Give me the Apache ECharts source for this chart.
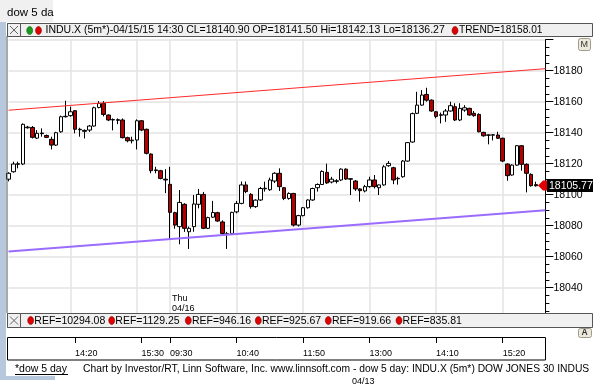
<!DOCTYPE html>
<html><head><meta charset="utf-8">
<script src="https://cdn.jsdelivr.net/npm/echarts@6/dist/echarts.min.js"></script>
<style>html,body{margin:0;padding:0;background:#fff;overflow:hidden}#c{width:600px;height:384px}</style>
</head><body><div id="c"></div>
<script>
// ---- data ----
const sessions = [['04/15','13:10','15:55'],['04/16','09:30','16:05']];
const openVals = [18110.0,18114.8,18119.6,18119.8,18143.2,18143.4,18136.5,18139.8,18138.2,18135.7,
18132.0,18140.6,18150.3,18151.0,18154.2,18142.2,18141.50,18141.7,18144.3,18156.3,
18158.9,18151.4,18148.2,18148.4,18148.2,18136.8,18134.8,18135.3,18147.7,18142.2,
18126.2,18116.0,18115.5,18110.0,18106.7,18088.4,18079.4,18093.8,18076.1,18079.4,
18093.8,18100.2,18078.3,18085.5,18088.4,18082.4,18074.5,18075.0,18088.9,18094.4,
18106.3,18100.2,18092.3,18096.6,18103.8,18103.2,18108.8,18113.8,18104.5,18097.6,
18100.8,18080.4,18086.5,18091.6,18096.6,18104.5,18106.6,18114.4,18108.2,18108.6,
18109.5,18116.5,18110.3,18108.8,18103.7,18102.4,18105.2,18109.5,18104.5,18106.3,
18118.7,18117.4,18110.3,18111.6,18121.7,18134.0,18152.5,18157.8,18164.7,18161.0,
18153.5,18151.2,18151.4,18154.0,18156.8,18148.2,18154.6,18155.7,18152.5,18151.8,
18140.2,18138.3,18138.4,18138.5,18136.4,18119.8,18112.7,18119.1,18131.6,18119.6,
18113.1,18106.5];
const closeVals = [18113.8,18119.8,18120.0,18145.4,18143.6,18137.0,18139.6,18139.4,18137.0,18132.0,
18140.0,18150.3,18150.6,18153.5,18142.2,18141.9,18140.90,18144.3,18156.1,18158.9,
18151.8,18148.2,18148.5,18148.0,18136.8,18134.8,18135.2,18147.7,18141.7,18126.7,
18115.5,18115.6,18110.5,18109.5,18088.6,18080.4,18095.0,18078.3,18078.3,18094.0,
18100.2,18078.3,18085.2,18088.5,18083.0,18075.0,18074.8,18088.6,18094.4,18106.3,
18102.0,18092.3,18096.5,18104.0,18104.2,18109.5,18113.8,18105.2,18097.6,18100.8,
18080.4,18086.5,18091.6,18096.6,18104.0,18106.6,18115.0,18107.6,18110.0,18109.0,
18116.5,18110.1,18110.0,18103.7,18102.6,18105.2,18109.5,18105.2,18106.3,18118.0,
18120.2,18109.5,18110.6,18121.7,18133.6,18152.3,18157.8,18164.3,18161.0,18154.0,
18150.5,18151.6,18154.0,18157.4,18148.2,18155.7,18156.1,18151.4,18151.0,18140.6,
18138.0,18138.6,18138.7,18136.4,18121.7,18112.3,18119.1,18131.6,18119.6,18113.8,
18105.8,18105.77];
const lowVals = [18108.6,18114.2,18117.0,18119.1,18142.6,18136.3,18136.0,18137.4,18136.5,18129.2,
18131.4,18140.0,18149.8,18150.3,18139.6,18137.4,18136.27,18140.5,18143.9,18155.7,
18150.5,18147.5,18141.5,18145.5,18136.3,18133.8,18133.1,18129.2,18141.0,18126.0,
18113.8,18113.8,18109.9,18101.0,18071.4,18078.0,18068.0,18076.0,18065.0,18076.1,
18091.2,18077.8,18077.8,18085.0,18082.5,18073.5,18065.0,18074.5,18088.0,18093.8,
18101.0,18091.0,18091.5,18096.0,18102.0,18102.5,18107.5,18102.4,18096.5,18096.8,
18079.5,18079.5,18086.0,18091.0,18096.0,18102.0,18106.3,18107.0,18107.3,18107.3,
18108.8,18109.5,18099.8,18102.4,18095.5,18101.5,18104.5,18104.0,18099.8,18105.8,
18118.0,18106.8,18106.5,18111.0,18121.3,18133.5,18152.0,18157.4,18160.0,18153.5,
18149.3,18146.0,18147.0,18153.6,18147.5,18147.5,18153.5,18151.0,18150.3,18140.2,
18137.4,18132.5,18135.0,18136.0,18121.0,18109.0,18112.3,18118.6,18115.5,18101.5,
18105.2,18105.2];
const highVals = [18114.5,18121.3,18121.3,18146.0,18144.4,18144.3,18141.7,18142.8,18138.8,18137.4,
18140.6,18151.0,18160.6,18156.8,18154.6,18143.2,18142.13,18145.0,18156.8,18160.4,
18160.4,18151.8,18149.2,18149.2,18149.2,18137.4,18137.4,18148.6,18148.2,18142.6,
18126.7,18118.0,18116.0,18116.5,18118.0,18089.0,18103.0,18094.5,18079.4,18099.8,
18103.7,18101.8,18085.8,18096.0,18089.0,18083.5,18076.0,18089.0,18096.0,18108.5,
18108.5,18101.0,18097.0,18105.0,18108.4,18111.0,18114.5,18117.0,18105.0,18101.5,
18101.2,18087.0,18092.0,18097.0,18104.5,18107.3,18115.7,18120.0,18111.5,18110.0,
18117.0,18117.0,18110.5,18109.5,18104.2,18106.3,18111.6,18112.7,18106.6,18119.1,
18121.7,18118.0,18111.6,18122.4,18134.0,18153.0,18166.4,18167.5,18169.0,18161.5,
18154.0,18153.0,18155.3,18160.0,18159.0,18159.0,18157.8,18156.1,18154.0,18152.5,
18140.6,18138.9,18139.0,18140.6,18136.8,18120.2,18119.6,18132.0,18132.0,18120.2,
18113.8,18108.4];
const trendRed = [18154.5, 18181.3];
const trendPurple = [18063.4, 18089.9];
const xTickLabels = ['04/15 14:20','04/15 15:30','04/16 09:30','04/16 10:40','04/16 11:50','04/16 13:00','04/16 14:10','04/16 15:20'];
const xGridLines = ['04/15 14:15','04/15 15:25','04/16 09:30','04/16 10:40','04/16 11:50','04/16 13:00','04/16 14:10','04/16 15:20'];
const refValues = ['10294.08','1129.25','946.16','925.67','919.66','835.81'];
const lastPrice = '18105.77';

// ---- categories (5-minute bars) ----
function session(date, start, end){
  const out=[]; let [h,m]=start.split(':').map(Number); const [eh,em]=end.split(':').map(Number);
  while(h*60+m <= eh*60+em){ out.push(date+' '+String(h).padStart(2,'0')+':'+String(m).padStart(2,'0')); m+=5; if(m>=60){m-=60;h++;} }
  return out;
}
const categories = [].concat(...sessions.map(s=>session(s[0],s[1],s[2])));
const ohlc = categories.map((c,i)=> i<openVals.length ? [openVals[i],closeVals[i],lowVals[i],highVals[i]] : '-');
const N = categories.length;

const FONT = 'Liberation Sans';
const chart = echarts.init(document.getElementById('c'), null, {renderer:'canvas'});
const GL = 8.5, GR = 54.6;
const tickSet = new Set(xTickLabels), gridSet = new Set(xGridLines);

function txt(x,y,s,opt){ return Object.assign({type:'text', x:x, y:y, style:Object.assign({text:s, font:'10.5px "'+FONT+'"', fill:'#000', textVerticalAlign:'middle'}, opt||{})}, {z:100}); }
const g = [];
// left blue window frame
g.push({type:'rect', shape:{x:0,y:22,width:6,height:358}, style:{fill:'#b8c8dc'}, z:99});
g.push({type:'rect', shape:{x:0,y:376,width:55,height:4}, style:{fill:'#b8c8dc'}, z:99});
// top tab
g.push({type:'rect', shape:{x:0,y:0,width:53,height:22}, style:{fill:'#f0f0f0'}, z:99});
g.push(txt(7,12.5,'dow 5 da',{font:'11.5px "'+FONT+'"'}));
// main panel left border
g.push({type:'line', shape:{x1:7,y1:36,x2:7,y2:313}, style:{stroke:'#555',lineWidth:1}, z:99});
// header bar
g.push({type:'rect', shape:{x:7.5,y:23.5,width:585,height:13}, style:{fill:'#f0f0f0',stroke:'#555',lineWidth:1}, z:99});
g.push({type:'rect', shape:{x:7.5,y:23.5,width:13,height:13}, style:{fill:'#f0f0f0',stroke:'#555',lineWidth:1}, z:100});
g.push({type:'line', shape:{x1:10,y1:26,x2:18,y2:34}, style:{stroke:'#666',lineWidth:1}, z:101});
g.push({type:'line', shape:{x1:18,y1:26,x2:10,y2:34}, style:{stroke:'#666',lineWidth:1}, z:101});
g.push({type:'ellipse', shape:{cx:29.7,cy:30.5,rx:3,ry:4}, style:{fill:'#1a9a1a',stroke:'#0a4a0a',lineWidth:0.5}, z:101});
g.push({type:'ellipse', shape:{cx:38.5,cy:30.5,rx:3,ry:4}, style:{fill:'#e00000',stroke:'#600000',lineWidth:0.5}, z:101});
g.push(txt(45.5,30.5,'INDU.X (5m*)-04/15/15 14:30 CL=18140.90 OP=18141.50 Hi=18142.13 Lo=18136.27'));
g.push({type:'ellipse', shape:{cx:455,cy:30.5,rx:3,ry:4}, style:{fill:'#e00000',stroke:'#600000',lineWidth:0.5}, z:101});
g.push(txt(459,30.5,'TREND=18158.01',{font:'10.2px "'+FONT+'"'}));
// M button
g.push({type:'rect', shape:{x:578.5,y:38.5,width:12,height:12,r:2}, style:{fill:'#ece8dc',stroke:'#a09a88',lineWidth:1}, z:100});
g.push(txt(580.5,44.5,'M',{font:'9px "'+FONT+'"', fill:'#333'}));
// price label
g.push({type:'polygon', shape:{points:[[538,185.5],[543,180.5],[547,180.5],[547,190.5],[543,190.5]]}, style:{fill:'#e00000'}, z:101});
g.push({type:'rect', shape:{x:547,y:179,width:46,height:13}, style:{fill:'#000'}, z:100});
g.push(txt(549,185.8,lastPrice,{fill:'#fff'}));
// Thu 04/16
g.push(txt(172,298.5,'Thu',{font:'9px "'+FONT+'"'}));
g.push(txt(172,308.5,'04/16',{font:'9px "'+FONT+'"'}));
// REF bar
g.push({type:'rect', shape:{x:7.5,y:313.5,width:585,height:14}, style:{fill:'#f0f0f0',stroke:'#555',lineWidth:1}, z:99});
g.push({type:'rect', shape:{x:7.5,y:313.5,width:13,height:14}, style:{fill:'#f0f0f0',stroke:'#555',lineWidth:1}, z:100});
g.push({type:'line', shape:{x1:10,y1:316.5,x2:18,y2:324.5}, style:{stroke:'#666',lineWidth:1}, z:101});
g.push({type:'line', shape:{x1:18,y1:316.5,x2:10,y2:324.5}, style:{stroke:'#666',lineWidth:1}, z:101});
const refX = [30.7,111.7,188.3,258.3,328.3,399];
refValues.forEach((v,i)=>{
  g.push({type:'ellipse', shape:{cx:refX[i],cy:320.5,rx:3,ry:4}, style:{fill:'#e00000',stroke:'#600000',lineWidth:0.5}, z:101});
  g.push(txt(refX[i]+3.6,320.8,'REF='+v));
});
// A button
g.push({type:'rect', shape:{x:578.5,y:328.5,width:13,height:9,r:2}, style:{fill:'#ece8dc',stroke:'#a09a88',lineWidth:1}, z:100});
g.push(txt(581.5,333,'A',{font:'bold 8.5px "'+FONT+'"', fill:'#333'}));
// x-axis panel box
g.push({type:'rect', shape:{x:7.5,y:337.5,width:538,height:22.5}, style:{fill:'none',stroke:'#000',lineWidth:1}, z:99});
// footer
g.push(txt(15,369,'*dow 5 day',{font:'10.5px "'+FONT+'"'}));
g.push({type:'line', shape:{x1:15,y1:374.5,x2:68,y2:374.5}, style:{stroke:'#000',lineWidth:1}, z:101});
g.push(txt(83,369,'Chart by Investor/RT, Linn Software, Inc. www.linnsoft.com - dow 5 day: INDU.X (5m*) DOW JONES 30 INDUS',{font:'10.3px "'+FONT+'"'}));
g.push(txt(352,382,'04/13',{font:'9px "'+FONT+'"'}));

const option = {
  animation:false,
  backgroundColor:'#fff',
  grid:[
    {left:GL, right:GR, top:39.7, height:279},
    {left:GL, right:GR, top:336, height:1}
  ],
  xAxis:[
    {type:'category', gridIndex:0, data:categories, boundaryGap:false,
     axisLine:{show:false}, axisTick:{show:false}, axisLabel:{show:false},
     splitLine:{show:true, interval:(i,v)=>gridSet.has(categories[i]), lineStyle:{color:'#e3e3e3', width:1.5}}},
    {type:'category', gridIndex:1, data:categories, boundaryGap:false, position:'bottom',
     axisLine:{show:false},
     axisTick:{show:true, interval:(i,v)=>tickSet.has(categories[i]), length:6, lineStyle:{color:'#000', width:1}},
     axisLabel:{show:true, interval:(i,v)=>tickSet.has(categories[i]), formatter:v=>v.slice(6), align:'left', margin:12, fontSize:9, fontFamily:FONT, color:'#000'},
     splitLine:{show:false}}
  ],
  yAxis:[
    {type:'value', gridIndex:0, position:'right', min:18020, max:18200, interval:20,
     axisLine:{show:true, lineStyle:{color:'#000', width:1}},
     axisTick:{show:true, length:8, lineStyle:{color:'#000'}},
     minorTick:{show:true, splitNumber:4, length:4, lineStyle:{color:'#000'}},
     axisLabel:{showMinLabel:false, showMaxLabel:false, margin:8, fontSize:10.5, fontFamily:FONT, color:'#000', verticalAlign:'middle', padding:[0,0,8,0], formatter:v=>String(v)},
     splitLine:{show:true, lineStyle:{color:'#e3e3e3', width:1.5}}},
    {type:'value', gridIndex:1, show:false}
  ],
  series:[
    {type:'candlestick', xAxisIndex:0, yAxisIndex:0, data:ohlc, barWidth:4, clip:false,
     itemStyle:{color:'#ffffff', color0:'#b40000', borderColor:'#000', borderColor0:'#000', borderWidth:1}},
    {type:'line', xAxisIndex:0, yAxisIndex:0, data:[[categories[0],trendRed[0]],[categories[N-1],trendRed[1]]],
     symbol:'none', lineStyle:{color:'#ff2a2a', width:1}, z:5},
    {type:'line', xAxisIndex:0, yAxisIndex:0, data:[[categories[0],trendPurple[0]],[categories[N-1],trendPurple[1]]],
     symbol:'none', lineStyle:{color:'#9a6cff', width:2}, z:5}
  ],
  graphic:g
};
chart.setOption(option);
</script></body></html>
